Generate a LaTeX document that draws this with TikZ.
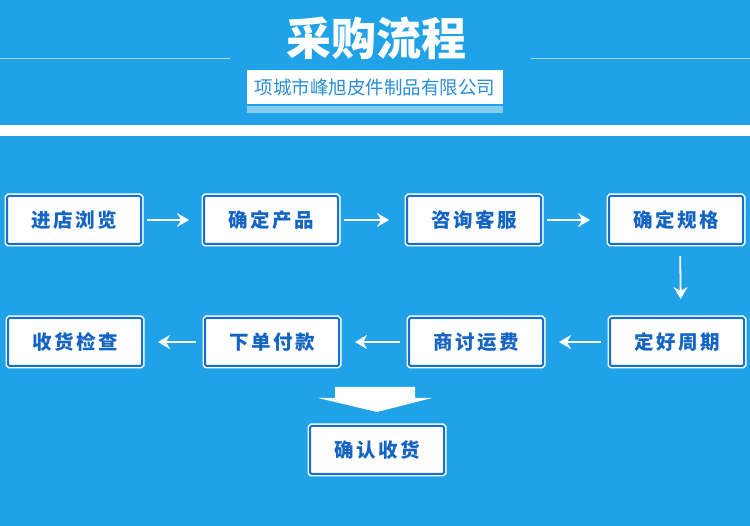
\documentclass[tikz,border=0pt]{standalone}
\usepackage{fontspec}
\newfontfamily\cjk{Noto Sans CJK SC}
\newfontfamily\cjkblack{Noto Sans CJK SC Black}
\usetikzlibrary{arrows.meta}

\definecolor{bgblue}{HTML}{1FA2E8}
\definecolor{boxblue}{HTML}{1170D2}
\definecolor{txtblue}{HTML}{1464C4}
\definecolor{subblue}{HTML}{2A8ED8}
\definecolor{barblue}{HTML}{86CDF3}

\begin{document}
\begin{tikzpicture}[x=1pt,y=-1pt]
	\useasboundingbox (0,0) rectangle (750,526);
	\fill[bgblue] (0,0) rectangle (750,526);
	
	% heading
	\node (T) at (376,38) {\cjkblack\fontsize{45}{45}\selectfont\color{white}采购流程};
	\draw[white,opacity=0.6,line width=1pt] (0,59) -- (230,59);
	\draw[white,opacity=0.6,line width=1pt] (531,59) -- (750,59);
	\fill[barblue] (247,106) rectangle (503,113);
	\node[fill=white,minimum width=256pt,minimum height=34pt,inner sep=0pt] (S) at (375,87)
		{\cjk\fontsize{18.5}{18.5}\selectfont\color{subblue}项城市峰旭皮件制品有限公司};
	\fill[white] (0,125) rectangle (750,136);
	
	\begin{scope}[every node/.style={rectangle,rounded corners=1.5pt,fill=white,draw=boxblue,line width=2pt,
			preaction={draw=white,line width=5pt},minimum width=134pt,minimum height=48pt,
			font=\cjk\bfseries\fontsize{19.5}{19.5}\selectfont\addfontfeature{LetterSpace=13},text=txtblue}]
		\node (A) at (74,220) {进店浏览};
		\node (B) at (271,220) {确定产品};
		\node (C) at (474,220) {咨询客服};
		\node (D) at (676,220) {确定规格};
		\node (E) at (677,342) {定好周期};
		\node (F) at (476,342) {商讨运费};
		\node (G) at (272,342) {下单付款};
		\node (H) at (75,342) {收货检查};
		\node (I) at (377,450) {确认收货};
	\end{scope}
	
	\begin{scope}[every edge/.style={draw=white,line width=1.8pt,-{Stealth[inset=4pt,length=12pt,width=14pt]}}]
		\path (A) edge[shorten <=5pt,shorten >=14pt] (B);
		\path (B) edge[shorten <=5pt,shorten >=17pt] (C);
		\path (C) edge[shorten <=5pt,shorten >=18pt] (D);
		\path ([xshift=4pt]D.south) edge[shorten <=11pt,shorten >=18pt] ([xshift=4pt]E.north);
		\path (E) edge[shorten <=8pt,shorten >=15pt] (F);
		\path (F) edge[shorten <=8pt,shorten >=15pt] (G);
		\path (G) edge[shorten <=8pt,shorten >=15pt] (H);
	\end{scope}
	
	% big arrow into the last step
	\fill[white] (335,387) -- (415,387) -- (415,398) -- (432,398) -- (377,412) -- (318,398) -- (335,398) -- cycle;
\end{tikzpicture}
\end{document}
